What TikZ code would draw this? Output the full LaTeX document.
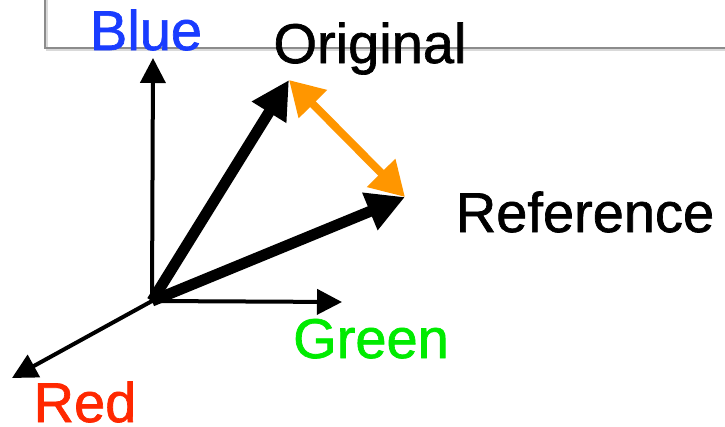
\documentclass[tikz,border=0pt]{standalone}
\usepackage{fontspec}
\setmainfont{Liberation Sans}
\newfontfamily\labelfont{Liberation Sans}[FakeBold=1.2]
\usetikzlibrary{arrows.meta, positioning}
\definecolor{axisBlue}{RGB}{25, 60, 255}
\definecolor{axisGreen}{RGB}{0, 235, 0}
\definecolor{axisRed}{RGB}{255, 40, 0}
\definecolor{diffOrange}{RGB}{255, 150, 0}
\tikzset{
    %
    % text of the labels
    axisText/.style={
        anchor=base, inner sep=0pt,
        font=\labelfont\fontsize{56}{60}\selectfont
    },
    %
    % thin colour axes
    axis/.style={
        draw=black, line width=4pt,
        -{Triangle[length=25pt, width=25pt]}
    },
    %
    % thick colour vectors
    vec/.style={
        draw=black, line width=11pt,
        -{Triangle[length=38pt, width=38pt]}
    },
    %
    % difference between the two vectors
    diff/.style={
        draw=diffOrange, line width=8pt,
        {Triangle[length=34pt, width=38pt]}-{Triangle[length=34pt, width=38pt]}
    },
    %
    % grey frame in the top corner
    frameLine/.style={draw=black!45, line width=2pt}
}

\begin{document}
\begin{tikzpicture}[x=1pt, y=-1pt]
	\useasboundingbox (0,0) rectangle (725,426);

	%% frame
	\draw[black!15, line width=2pt] (47,0) -- (47,50) -- (725,50);
	\draw[frameLine] (45,0) -- (45,48) -- (725,48);

	%% points
	\coordinate (O) at (152,301);
	\coordinate (blueTip) at (153,58);
	\coordinate (greenTip) at (342,302);
	\coordinate (redTip) at (12,378);
	\coordinate (orig) at (289,80);
	\coordinate (ref) at (405,197);

	%% labels
	\node (blue) [axisText, text=axisBlue] at (146,50) {Blue};
	\node (original) [axisText] at (370,63) {Original};
	\node (reference) [axisText] at (585,232) {Reference};
	\node (green) [axisText, text=axisGreen] at (371,358) {Green};
	\node (red) [axisText, text=axisRed] at (85,422) {Red};

	%% axes
	\draw[axis] (O) -- (blueTip);
	\draw[axis] (O) -- (greenTip);
	\draw[axis] (O) -- (redTip);

	%% vectors
	\draw[vec] (O) -- (orig);
	\draw[vec] (O) -- (ref);

	% orange arrow between the tips
	\draw[diff] (orig) -- (ref);

\end{tikzpicture}
\end{document}
